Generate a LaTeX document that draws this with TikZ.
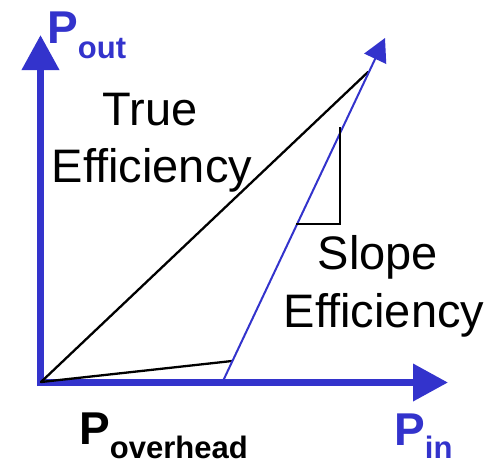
\documentclass[tikz,border=0pt]{standalone}
\usepackage{fontspec}
\setmainfont{Liberation Sans}
\usetikzlibrary{arrows.meta}
\definecolor{axblue}{RGB}{51,51,204}
\tikzset{
  axis/.style={draw=axblue,line width=7pt,-{Triangle[length=35pt,width=36pt]}},
  slopeline/.style={draw=axblue,line width=2pt,-{Triangle[length=23pt,width=24pt]}},
  blk/.style={draw=black,line width=2.3pt},
  bigtext/.style={font=\fontsize{47}{57}\selectfont,inner sep=0pt,anchor=base},
  plabel/.style={font=\fontsize{46}{50}\selectfont\bfseries,inner sep=0pt,anchor=base west}
}
\newcommand{\psub}[2]{P\raisebox{-#2}{\fontsize{31}{31}\selectfont\bfseries #1}}
\begin{document}
\begin{tikzpicture}[x=1pt,y=-1pt]
\useasboundingbox (0,0) rectangle (489,461);
\coordinate (o) at (41,382);
\coordinate (vb) at (40.5,386);
\coordinate (vt) at (40.5,35);
\coordinate (hl) at (37,382.5);
\coordinate (hr) at (448,382.5);
\coordinate (sb) at (223,381);
\coordinate (st) at (385,38);
\coordinate (te) at (368,72);
\coordinate (oe) at (232,361);
\coordinate (t1) at (296,224);
\coordinate (t2) at (340,224);
\coordinate (t3) at (340,127);
\draw[axis] (vb) -- (vt);
\draw[axis] (hl) -- (hr);
\draw[blk,line cap=round] (o) -- (te);
\draw[blk,line cap=round] (o) -- (oe);
\draw[slopeline] (sb) -- (st);
\draw[draw=black,line width=2pt] (t1) -- (t2) -- (t3);
\node[bigtext] (true1) at (150,125) {True};
\node[bigtext] (true2) at (152,182) {Efficiency};
\node[bigtext] (slope1) at (378,269) {Slope};
\node[bigtext] (slope2) at (384,327) {Efficiency};
\node[plabel,text=axblue] (pout) at (47,43) {\psub{out}{15pt}};
\node[plabel,text=black] (pover) at (79,444) {\psub{overhead}{14pt}};
\node[plabel,text=axblue] (pin) at (394,445) {\psub{in}{13pt}};
\end{tikzpicture}
\end{document}
